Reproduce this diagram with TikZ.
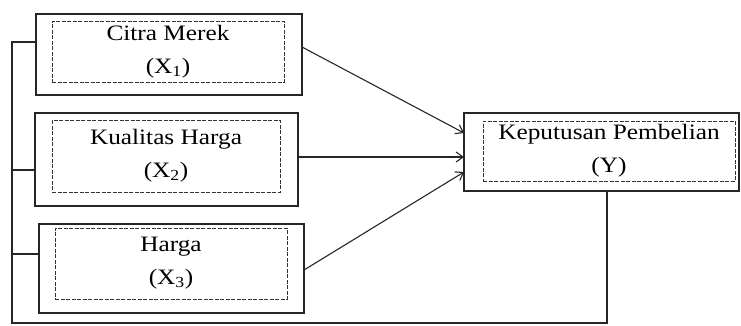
\documentclass[tikz,border=0pt]{standalone}
\usepackage{fontspec}
\setmainfont{Liberation Serif}[FakeStretch=1.15]
\usetikzlibrary{arrows.meta,calc}
\begin{document}
\begin{tikzpicture}[x=1pt,y=-1pt,
  outerbox/.style={draw=black!85,line width=1.6pt,minimum width=#1,inner sep=0pt,outer sep=0pt},
  innerbox/.style={draw=black!80,dash pattern=on 4pt off 1.5pt,line width=1pt,inner sep=0pt,align=center,
     font=\fontsize{22}{33}\selectfont},
  conn/.style={draw=black!85,line width=1.1pt},
  arr/.style={conn,-{Straight Barb[length=7pt,width=10pt]}}]
\useasboundingbox (0,0) rectangle (741,325);
% outer boxes
\node[outerbox=266pt,minimum height=81pt] (o1) at (169,54.5) {};
\node[outerbox=263pt,minimum height=93pt] (o2) at (166.5,159.5) {};
\node[outerbox=265pt,minimum height=89pt] (o3) at (171.5,268.5) {};
\node[outerbox=275pt,minimum height=78pt] (oy) at (601.5,152) {};
% inner dashed boxes with text
\node[innerbox,minimum width=232pt,minimum height=61pt] (i1) at (168,51.5) {Citra Merek\\(X\textsubscript{1})};
\node[innerbox,minimum width=228pt,minimum height=72pt] (i2) at (166,156) {Kualitas Harga\\(X\textsubscript{2})};
\node[innerbox,minimum width=232pt,minimum height=71pt] (i3) at (171,263.5) {Harga\\(X\textsubscript{3})};
\node[innerbox,minimum width=252pt,minimum height=60pt] (iy) at (609,151) {Keputusan Pembelian\\(Y)};
% arrows
\draw[arr] ([yshift=7.5pt]o1.east) -- ([yshift=19pt]oy.west);
\draw[arr] ([yshift=2.5pt]o2.east) -- ([yshift=-5pt]oy.west);
\draw[arr] ([yshift=-1.5pt]o3.east) -- ([yshift=-20pt]oy.west);
% feedback line
\coordinate (L1) at (12,42);
\coordinate (L2) at (12,170);
\coordinate (L3) at (12,254);
\coordinate (LB) at (12,323);
\coordinate (RB) at (607,323);
\draw[conn] (o1.west |- L1) -- (L1) -- (LB) -- (RB) -- (oy.south -| RB);
\draw[conn] (L2) -- (L2 -| o2.west);
\draw[conn] (L3) -- (L3 -| o3.west);
\end{tikzpicture}
\end{document}
